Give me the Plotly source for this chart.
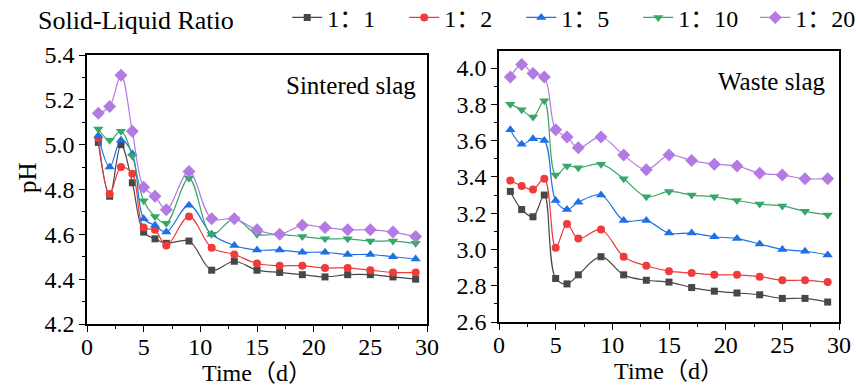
import plotly.graph_objects as go

days = [1, 2, 3, 4, 5, 6, 7, 9, 11, 13, 15, 17, 19, 21, 23, 25, 27, 29]
ratios = ["1：1", "1：2", "1：5", "1：10", "1：20"]

sintered_1_1 = [5.01, 4.77, 5.00, 4.83, 4.61, 4.58, 4.56, 4.57, 4.44, 4.48, 4.44, 4.43, 4.42, 4.41, 4.42, 4.42, 4.41, 4.40]
sintered_1_2 = [5.03, 4.78, 4.90, 4.87, 4.63, 4.62, 4.55, 4.68, 4.54, 4.51, 4.47, 4.46, 4.46, 4.45, 4.45, 4.44, 4.43, 4.43]
sintered_1_5 = [5.04, 4.90, 5.02, 4.96, 4.67, 4.64, 4.61, 4.73, 4.60, 4.55, 4.53, 4.53, 4.52, 4.52, 4.51, 4.51, 4.50, 4.49]
sintered_1_10 = [5.07, 5.02, 5.06, 4.95, 4.75, 4.68, 4.65, 4.85, 4.60, 4.67, 4.60, 4.60, 4.59, 4.58, 4.58, 4.57, 4.57, 4.56]
sintered_1_20 = [5.14, 5.17, 5.31, 5.06, 4.81, 4.77, 4.71, 4.88, 4.67, 4.67, 4.62, 4.60, 4.64, 4.63, 4.62, 4.62, 4.61, 4.59]

waste_1_1 = [3.32, 3.22, 3.18, 3.30, 2.84, 2.81, 2.86, 2.96, 2.86, 2.83, 2.82, 2.79, 2.77, 2.76, 2.75, 2.73, 2.73, 2.71]
waste_1_2 = [3.38, 3.35, 3.33, 3.39, 3.01, 3.14, 3.06, 3.11, 2.96, 2.91, 2.88, 2.87, 2.86, 2.86, 2.85, 2.83, 2.83, 2.82]
waste_1_5 = [3.66, 3.58, 3.61, 3.60, 3.27, 3.22, 3.26, 3.30, 3.16, 3.16, 3.09, 3.09, 3.07, 3.06, 3.03, 3.00, 2.99, 2.97]
waste_1_10 = [3.80, 3.77, 3.73, 3.82, 3.41, 3.46, 3.45, 3.47, 3.39, 3.29, 3.32, 3.30, 3.29, 3.27, 3.25, 3.24, 3.21, 3.19]
waste_1_20 = [3.95, 4.02, 3.97, 3.95, 3.66, 3.62, 3.56, 3.62, 3.52, 3.44, 3.52, 3.49, 3.47, 3.46, 3.42, 3.41, 3.39, 3.39]

sintered = [sintered_1_1, sintered_1_2, sintered_1_5, sintered_1_10, sintered_1_20]
waste = [waste_1_1, waste_1_2, waste_1_5, waste_1_10, waste_1_20]

colors = ["#474747", "#ef3b3b", "#1f6fe5", "#38a868", "#b47ae4"]
symbols = ["square", "circle", "triangle-up", "triangle-down", "diamond"]
sizes = [7, 8, 9, 9, 10]

FONT = "Liberation Serif, Noto Sans CJK SC, serif"
W, H = 856, 388

fig = go.Figure()
for i in range(5):
    fig.add_trace(go.Scatter(
        x=days, y=sintered[i], name=ratios[i], mode="lines+markers",
        line=dict(color=colors[i], width=1.2, shape="spline", smoothing=1.0),
        marker=dict(symbol=symbols[i], size=sizes[i], color=colors[i]),
        xaxis="x", yaxis="y", legendgroup=ratios[i], showlegend=True))
for i in range(5):
    fig.add_trace(go.Scatter(
        x=days, y=waste[i], name=ratios[i], mode="lines+markers",
        line=dict(color=colors[i], width=1.2, shape="spline", smoothing=1.0),
        marker=dict(symbol=symbols[i], size=sizes[i], color=colors[i]),
        xaxis="x2", yaxis="y2", legendgroup=ratios[i], showlegend=False))

axis_common = dict(
    showline=True, linecolor="black", linewidth=1.5, mirror=True,
    ticks="outside", ticklen=6, tickwidth=1.2, tickcolor="black",
    showgrid=False, zeroline=False, automargin=False,
    tickfont=dict(family=FONT, size=24, color="black"),
)
minor_x = dict(dtick=2.5, ticks="outside", ticklen=3, tickcolor="black")
minor_y = dict(dtick=0.1, ticks="outside", ticklen=3, tickcolor="black")

fig.update_layout(
    width=W, height=H,
    margin=dict(l=0, r=0, t=0, b=0, autoexpand=False),
    paper_bgcolor="white", plot_bgcolor="white",
    font=dict(family=FONT, color="black"),
    xaxis=dict(domain=[87 / W, 427 / W], range=[0, 30], dtick=5, anchor="y", minor=minor_x,
               ticklabelstandoff=-6,
               title=dict(text="Time（d）", font=dict(family=FONT, size=24), standoff=2),
               **axis_common),
    yaxis=dict(domain=[1 - 324 / H, 1 - 55 / H], range=[4.2, 5.4], dtick=0.2, tickformat=".1f",
               anchor="x", minor=minor_y, **axis_common),
    xaxis2=dict(domain=[499 / W, 839 / W], range=[0, 30], dtick=5, anchor="y2", minor=minor_x,
                ticklabelstandoff=-6,
                title=dict(text="Time（d）", font=dict(family=FONT, size=24), standoff=2),
                **axis_common),
    yaxis2=dict(domain=[1 - 322 / H, 1 - 51 / H], range=[2.6, 4.094], tick0=2.6, dtick=0.2,
                tickformat=".1f", anchor="x2", minor=minor_y, **axis_common),
    legend=dict(
        orientation="h", x=36 / W, y=1.012, xanchor="left", yanchor="top",
        font=dict(family=FONT, size=24, color="black"),
        title=dict(text="Solid-Liquid Ratio       ", side="left", font=dict(family=FONT, size=26)),
        bgcolor="rgba(0,0,0,0)", itemwidth=30, tracegroupgap=0,
        entrywidth=72, entrywidthmode="pixels",
    ),
    annotations=[
        dict(text="Sintered slag", x=351 / W, y=1 - 85 / H, xref="paper", yref="paper",
             xanchor="center", yanchor="middle",
             showarrow=False, font=dict(family=FONT, size=25)),
        dict(text="Waste slag", x=771 / W, y=1 - 81 / H, xref="paper", yref="paper",
             xanchor="center", yanchor="middle",
             showarrow=False, font=dict(family=FONT, size=25)),
        dict(text="pH", x=28 / W, y=1 - 177 / H, xref="paper", yref="paper", showarrow=False,
             xanchor="center", yanchor="middle",
             textangle=-90, font=dict(family=FONT, size=25)),
    ],
)

fig.write_html("out.html")
